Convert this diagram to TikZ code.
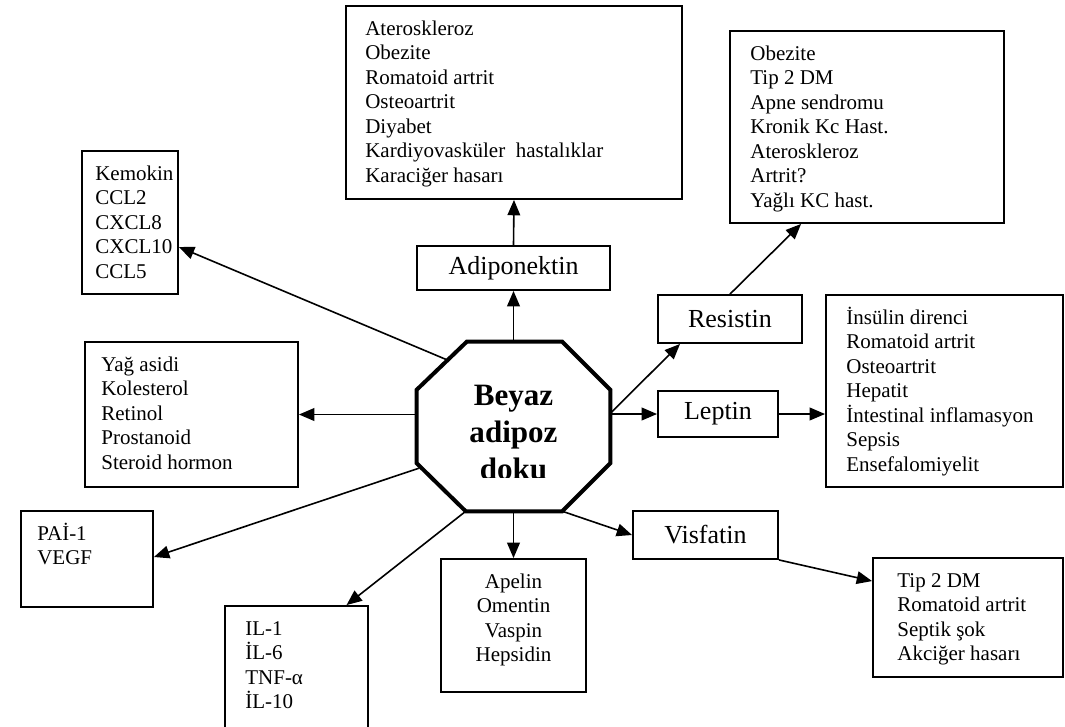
\documentclass[tikz,border=0pt]{standalone}
\usepackage{fontspec}
\setmainfont{Liberation Serif}
\usetikzlibrary{positioning}
\usetikzlibrary{calc}
\usetikzlibrary{arrows.meta}

\newcommand{\listfont}{\fontsize{15.75}{18.4}\selectfont}
\newcommand{\namefont}{\fontsize{19.5}{23}\selectfont}
\newcommand{\dokufont}{\bfseries\fontsize{23.3}{27.75}\selectfont}

\tikzset{
  listbox/.style={draw, line width=1.4pt, inner sep=0pt},
  items/.style={anchor=base west, align=left, inner sep=0pt, font=\listfont},
  hormon/.style={listbox, font=\namefont},
  arr/.style={-{Triangle[length=11.5pt,width=9.5pt]}, line width=1.2pt},
}

\begin{document}
\begin{tikzpicture}[x=0.75pt, y=-0.75pt]
\useasboundingbox (0,0) rectangle (1065,726);

% centre octagon
\node[inner sep=0pt, minimum width=144.75pt, minimum height=126.75pt] (doku) at (513.5,426.5) {};
\draw[line width=3pt, line join=miter] ($(doku.north west)+(50,0)$) -- ($(doku.north east)+(-48,0)$)
  -- ($(doku.north east)+(0,48)$) -- ($(doku.south east)+(0,-48)$) -- ($(doku.south east)+(-48,0)$)
  -- ($(doku.south west)+(49,0)$) -- ($(doku.south west)+(0,-48)$) -- ($(doku.north west)+(0,48)$) -- cycle;
\begin{scope}
\clip (417,342) rectangle (610,477);
% base anchor = last line
\node[font=\dokufont, align=center, anchor=base, inner sep=0pt] (dokuname) at ($(doku.north)+(0,138)$) {Beyaz\\adipoz\\doku};
\end{scope}

% hormones
\node[hormon, minimum width=144.75pt, minimum height=33pt] (adipo) at (513.5,268) {Adiponektin};
\node[hormon, minimum width=108pt, minimum height=36pt] (res) at (730,319) {Resistin};
\node[hormon, minimum width=90pt, minimum height=34.5pt] (lep) at (718,414) {Leptin};
\node[hormon, minimum width=108.75pt, minimum height=36pt] (visf) at (705.5,535) {Visfatin};

% lists (text placed by the base of its last line)
\node[listbox, minimum width=252pt, minimum height=144.75pt] (dis) at (514,102.5) {};
\node[items] (distext) at ($(dis.north west)+(20,177.2)$) {Ateroskleroz\\Obezite\\Romatoid artrit\\Osteoartrit\\Diyabet\\Kardiyovasküler\ \ hastalıklar\\Karaciğer hasarı};

\node[listbox, minimum width=205.5pt, minimum height=144pt] (reslist) at (867,127) {};
\node[items] (restext) at ($(reslist.north west)+(21,177.2)$) {Obezite\\Tip 2 DM\\Apne sendromu\\Kronik Kc Hast.\\Ateroskleroz\\Artrit?\\Yağlı KC hast.};

\node[listbox, minimum width=177.75pt, minimum height=144pt] (leplist) at (944.5,391) {};
\node[items] (leptext) at ($(leplist.north west)+(21,177.2)$) {İnsülin direnci\\Romatoid artrit\\Osteoartrit\\Hepatit\\İntestinal inflamasyon\\Sepsis\\Ensefalomiyelit};

\node[listbox, minimum width=142.5pt, minimum height=89.25pt] (visflist) at (968,617.5) {};
\node[items] (visftext) at ($(visflist.north west)+(25,103.6)$) {Tip 2 DM\\Romatoid artrit\\Septik şok\\Akciğer hasarı};

\node[listbox, minimum width=108.75pt, minimum height=99.75pt] (apel) at (513.5,625.5) {};
\node[items, anchor=base, align=center] (apeltext) at ($(apel.north)+(0,103.6)$) {Apelin\\Omentin\\Vaspin\\Hepsidin};

\node[listbox, minimum width=107.25pt, minimum height=94.5pt] (il) at (296.5,669) {};
\node[items] (iltext) at ($(il.north west)+(21,103.6)$) {IL-1\\İL-6\\TNF-α\\İL-10};

\node[listbox, minimum width=99pt, minimum height=72pt] (pai) at (87,559) {};
\node[items] (paitext) at ($(pai.north west)+(17,54.5)$) {PAİ-1\\VEGF};

\node[listbox, minimum width=159.75pt, minimum height=108.75pt] (yag) at (191.5,414.5) {};
\node[items] (yagtext) at ($(yag.north west)+(17,128.1)$) {Yağ asidi\\Kolesterol\\Retinol\\Prostanoid\\Steroid hormon};

\node[listbox, minimum width=72pt, minimum height=107.25pt] (kemo) at (130,222.5) {};
\node[items] (kemotext) at ($(kemo.north west)+(14,128.1)$) {Kemokin\\CCL2\\CXCL8\\CXCL10\\CCL5};

% arrows
\draw[arr] (doku.north) -- (adipo.south);
\draw[arr] (adipo.north) -- (dis.south);
\draw[arr] ($(doku.north west)+(30,18)$) -- ($(kemo.east)+(0,24.5)$);
\draw[arr] (doku.west |- yag.east) -- (yag.east);
\draw[arr] ($(doku.south west)+(2,-43)$) -- ($(pai.east)+(0,-2)$);
\draw[arr] ($(doku.south west)+(49,0)$) -- ($(il.north)+(50,0)$);
\draw[arr] (doku.south) -- (apel.north);
\draw[arr] ($(doku.south east)+(-48,0)$) -- (visf.west);
\draw[arr] (visf.south east) -- ($(visflist.north west)+(0,24)$);
\draw[arr] (doku.east |- lep.west) -- (lep.west);
\draw[arr] ($(doku.east)+(0,-13)$) -- ($(res.south)+(-50,0)$);
\draw[arr] (res.north) -- ($(reslist.south west)+(72,0)$);
\draw[arr] (lep.east) -- (leplist.west |- lep.east);
\end{tikzpicture}
\end{document}
